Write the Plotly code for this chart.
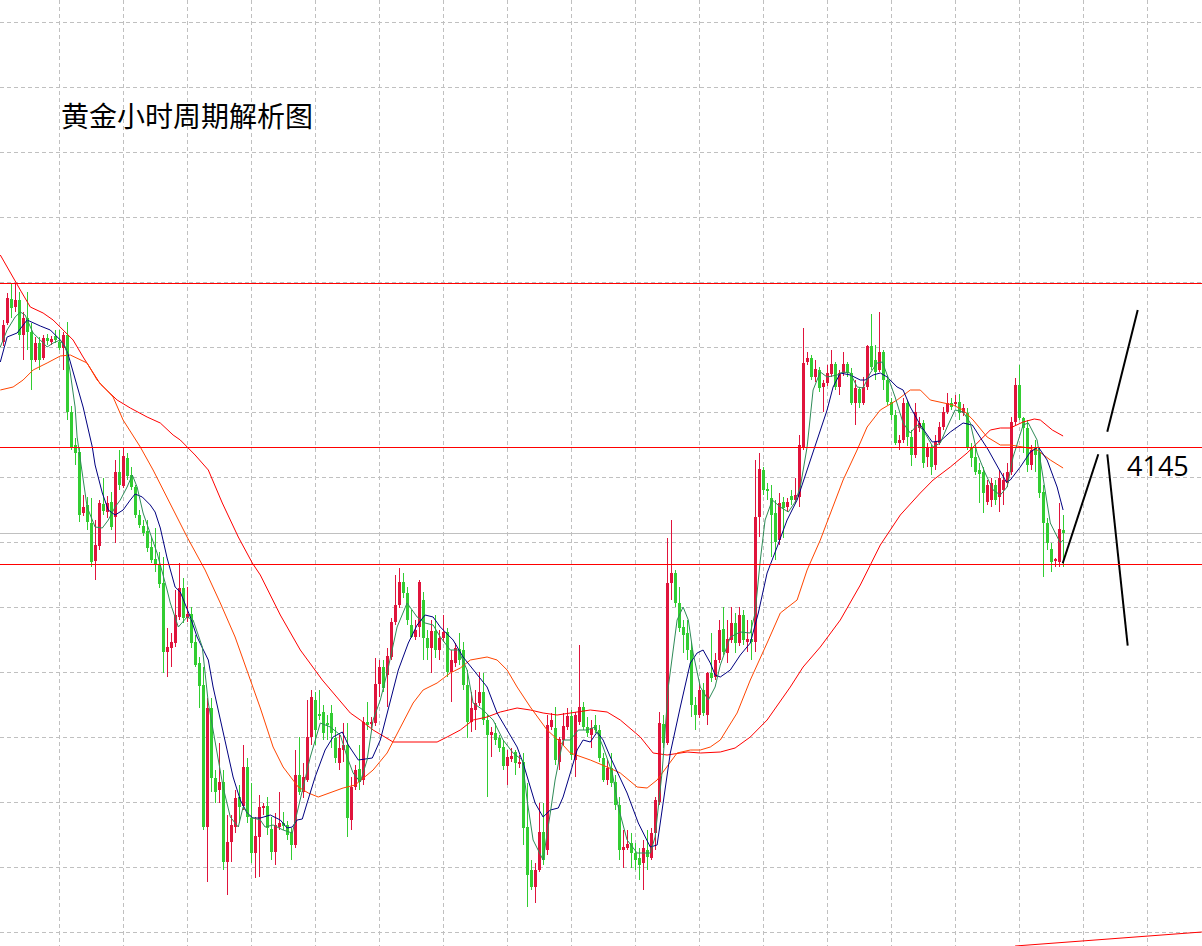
import plotly.graph_objects as go

# ---------------- data (hourly gold candles) ----------------
opens = [4197.5,4207,4219,4215,4218.5,4201,4209.5,4202.5,4188.5,4197,4189.5,4199.5,4197.5,4200.5,4197.5,4194.5,4201,4162.5,4146,4142.5,
4112,4116,4107,4088,4095.5,4116.5,4112.5,4117.5,4110,4132.5,4125.5,4139.5,4131,4125,4111,4105.5,4103,4095,4089,4086,
4077,4042.5,4044.5,4047,4060,4074.5,4059.5,4061.5,4047.5,4037,4026,3955,4014.5,3979.5,3973.5,3977.5,3937.5,3947.5,3955,3970,
3965.5,3985,3959.5,3942,3950,3964.5,3965.5,3954,3942.5,3955,3957,3956,3952,3946,3981,3972.5,3978.5,4000,4018.5,4011.5,
4012.5,4007,4012,3999.5,3987,3993.5,3996,3958.5,3975,3984,3978.5,4007.5,4006.5,4007,4026.5,4035,4031,4040,4057.5,4066,
4077.5,4072,4056,4050,4055,4068.5,4049.5,4044.5,4053,4043.5,4049.5,4052.5,4032.5,4037,4044,4043.5,4026,4007.5,4013.5,4017,
4022.5,4008.5,4001,4002,3999.5,3995,3985.5,3989,3992.5,3986.5,3987.5,3955,3933.5,3925,3933.5,3952.5,3943.5,4005,4004.5,3987.5,
3998.5,4005,4010.5,3988.5,4007.5,4015,4005,4001,4006,4003.5,3989.5,3978.5,3984.5,3977.5,3966,3943.5,3944.5,3947,3942,3939.5,
3937,3943.5,3939.5,3952,3967.5,4006.5,3997,4077,4082,4067,4055,4052,4043.5,4016,4011,4023.5,4011,4032,4030,4038.5,
4054,4042,4048.5,4057,4047,4061,4047.5,4049,4047.5,4110,4133.5,4123.5,4119.5,4112,4098.5,4117.5,4115,4120.5,4118.5,4120,
4145,4187.5,4189.5,4180,4183.5,4175,4177,4181.5,4186.5,4175,4182,4186.5,4182,4167,4174,4167,4175,4195.5,4188.5,4183.5,
4192.5,4178.5,4167.5,4161,4147,4148.5,4167,4150,4141,4154.5,4157,4140,4144.5,4136,4147,4155,4162.5,4167,4166.5,4167.5,
4162,4162,4145,4140,4133.5,4132.5,4117.5,4118.5,4126,4120,4123.5,4127,4132.5,4157.5,4176,4159.5,4154.5,4136,4145,4142.5,
4122.5,4107,4094,4088,4087.5,4103.5]
highs = [4208.5,4222,4227,4227,4222.5,4212.5,4222.5,4207,4200,4200,4201,4201.5,4200.5,4203.5,4203.5,4202.5,4207.5,4165.5,4149.5,4145,
4121,4120,4119.5,4108.5,4118.5,4129.5,4120.5,4122.5,4138.5,4143.5,4144.5,4142,4135,4126,4113.5,4108.5,4108.5,4100,4104.5,4092.5,
4090,4054.5,4052,4073.5,4087,4079.5,4075,4065,4051,4040,4035,4019.5,4019.5,3983.5,3997,3983.5,3961,3961,3973.5,3976,
3996,3989.5,3977,3960,3971,3967,3970,3960,3962,3972.5,3962.5,3958,3954.5,3993.5,4000,3987,4018.5,4023.5,4022.5,4023.5,
4016,4011,4016,4005,4001,4007,4007,3980,3986,3996,4010,4017.5,4010,4039.5,4038.5,4038.5,4044.5,4059.5,4081,4084.5,
4082,4075,4063.5,4058.5,4078.5,4072.5,4053.5,4058.5,4061,4053.5,4061,4054.5,4043.5,4047,4052,4047.5,4033.5,4022.5,4023.5,4032.5,
4032,4011,4005,4007,4001,3998.5,3993.5,3994.5,3993.5,3991,3992,3977,3938.5,3937,3967,3967,4011,4012,4015,4000,
4012,4014.5,4013.5,4012.5,4046,4017.5,4010,4008.5,4011,4006,3992,3988.5,3992,3981,3970,3953.5,3953.5,3952,3947,3944.5,
3948.5,3953.5,3954.5,3970,4012.5,4011,4099.5,4108.5,4083.5,4075,4058.5,4058.5,4047.5,4020,4027,4027,4032.5,4052,4042,4058.5,
4065,4058.5,4065,4062,4065,4063.5,4058.5,4058.5,4138.5,4142,4135,4127,4126,4118.5,4122,4120,4119.5,4123.5,4129.5,4151,
4204.5,4192.5,4191,4188.5,4185,4178.5,4186,4193.5,4187.5,4183.5,4192.5,4187.5,4184.5,4178.5,4175,4180,4196,4211.5,4196,4212.5,
4193.5,4181,4169.5,4163.5,4151,4169.5,4168.5,4153.5,4167,4160,4158.5,4147,4146,4151,4157.5,4165,4172,4169.5,4171,4171.5,
4166.5,4164.5,4147,4144.5,4137,4135,4128.5,4129.5,4128.5,4133.5,4132,4137,4160,4179.5,4186,4160,4158.5,4146,4148.5,4144.5,
4126,4109.5,4097,4089.5,4117,4111]
lows = [4195.5,4206,4209.5,4212.5,4198.5,4188.5,4193.5,4173.5,4187.5,4183.5,4188.5,4196,4196,4197,4193.5,4183.5,4158.5,4143.5,4136,4107.5,
4110.5,4103.5,4085,4078.5,4093.5,4111,4109.5,4103.5,4097,4123.5,4124.5,4128.5,4123.5,4109.5,4104.5,4100.5,4092.5,4087,4082.5,4074.5,
4032,4030,4035,4045,4058.5,4057,4057.5,4044.5,4035,4014.5,3953.5,3927.5,3972.5,3967,3967,3933.5,3921,3937.5,3952,3957,
3963.5,3957,3937,3929.5,3930,3961,3951,3938.5,3936,3953.5,3953.5,3948.5,3938.5,3944.5,3971,3969.5,3977.5,3996,3996,4008.5,
3998.5,3998.5,3994.5,3987,3983.5,3987.5,3950,3953.5,3973.5,3973.5,3976,4003.5,4003.5,4005.5,4020,4022.5,4015,4038.5,4056,4064.5,
4069.5,4056,4049.5,4048.5,4050,4038.5,4038.5,4032,4039.5,4038.5,4047.5,4030,4017.5,4035,4036,4023.5,3999.5,4002.5,4003.5,4015.5,
4006,3970,3990,3996,3992.5,3983.5,3976,3987.5,3981,3984.5,3946,3915,3923.5,3917,3932.5,3936,3941,4003.5,3986,3983.5,
3996,4003.5,3988.5,3980,4006,4003.5,4000,3994.5,4002,3987.5,3977.5,3976,3975,3963.5,3938.5,3934.5,3943.5,3934.5,3933.5,3928.5,
3923.5,3933.5,3938.5,3943.5,3966,3994.5,3996,4068.5,4065,4052.5,4042,4038.5,4010,4003.5,4009.5,4010.5,4006,4027.5,4028.5,4037,
4041,4037,4047,4042,4045.5,4046,4042.5,4038.5,4042.5,4100,4121,4118.5,4090,4088.5,4096,4099.5,4112.5,4116,4117,4115,
4143.5,4186,4178.5,4177.5,4172.5,4162.5,4175.5,4180,4173.5,4171,4180.5,4180,4166,4156,4164.5,4166,4173.5,4183.5,4178.5,4182.5,
4173.5,4166,4158.5,4146,4143.5,4147,4145.5,4135.5,4139.5,4152.5,4134.5,4135,4131,4133.5,4146,4153.5,4161.5,4163.5,4165.5,4158.5,
4160.5,4143.5,4135,4131,4117,4112,4116,4115,4116,4112.5,4116,4125,4131,4156,4158.5,4142,4132.5,4133.5,4132.5,4119.5,
4080,4093.5,4082.5,4085,4085,4085]
closes = [4206,4219.5,4214.5,4218.5,4201,4209.5,4202.5,4188.5,4197,4188.5,4199.5,4198,4199,4198.5,4194.5,4201,4162.5,4145,4142,4111,
4115,4107.5,4087.5,4096,4117,4113,4117,4105,4132.5,4126,4140.5,4130.5,4125,4111,4106,4102,4094.5,4088.5,4086,4076.5,
4042.5,4045,4047.5,4061,4074.5,4059.5,4061.5,4047,4036,4025.5,3955,4014.5,3979.5,3972.5,3977.5,3937.5,3947.5,3956,3969.5,3965,
3985,3960,3942,3950.5,3965,3965.5,3954.5,3942.5,3956,3957,3955.5,3951,3946,3981,3972.5,3980,4000,4020,4003.5,4010.5,
4002,4006,4002,3989.5,3994.5,3996,3959.5,3975,3983.5,3977.5,4007.5,4006,4007,4026.5,4035,4024.5,4040.5,4057.5,4066,4077.5,
4072,4058.5,4050,4053.5,4077.5,4049.5,4044.5,4053,4043.5,4049.5,4052.5,4032.5,4038.5,4044.5,4038.5,4026,4007.5,4014.5,4017,4022.5,
4008.5,4001,4002.5,3998.5,3994.5,3985.5,3990,3990.5,3987,3987.5,3954.5,3931,3925,3933.5,3952.5,3938.5,4006,4008.5,3988.5,3999,
4005.5,4010.5,3991,4011,4015,4005,4002,4004.5,4003.5,3989.5,3978.5,3984.5,3977,3966,3943.5,3945,3946.5,3942,3938.5,3936,
3944.5,3940,3952,3968.5,4007,3997,4077,4082,4067,4054.5,4051,4043.5,4016,4011,4023.5,4012,4032,4029.5,4038.5,4053.5,
4042.5,4049,4057,4047,4061,4048.5,4049,4047.5,4110,4134,4123.5,4123,4111,4097.5,4117,4114.5,4117.5,4118.5,4121,4146,
4187,4189.5,4180,4184,4174.5,4177,4182,4186.5,4175,4182,4186.5,4182,4167,4174.5,4167,4175,4195.5,4185,4182.5,4192.5,
4178.5,4167.5,4161,4147,4148.5,4167,4150,4141,4162.5,4157,4137,4144.5,4135,4147.5,4155,4162.5,4167,4165,4167.5,4162,
4164.5,4145,4139.5,4132.5,4131.5,4122,4126,4127,4118.5,4129.5,4128.5,4132.5,4157.5,4176,4159.5,4154.5,4136,4143.5,4141,4122,
4107,4097,4087.5,4088.5,4104,4102]

# moving averages: (candle index, price)
ma_fast_x = [-0.8,0.9,2.9,4.2,5.4,7.4,9.2,10.9,12.4,14.2,15.4,15.9,16.7,17.2,17.9,18.4,19.2,20.9,22.9,24.7,26.2,27.9,29.2,30.9,32.2,33.4,34.9,36.7,38.4,40.9,
41.7,43.7,45.9,47.4,49.7,51.2,53.4,54.9,56.7,58.7,59.9,61.7,64.2,65.4,67.4,69.9,72.2,73.4,74.9,76.7,79.2,81.7,84.2,85.9,87.4,89.2,90.9,92.4,94.2,95.9,
98.4,100.9,103.4,105.4,107.4,109.2,111.7,113.7,115.9,117.4,119.9,122.4,124.9,127.4,129.7,130.9,132.4,134.9,136.7,137.9,139.9,141.7,143.7,145.9,147.9,149.9,152.2,153.7,155.9,158.4,
159.9,161.7,162.9,164.7,166.2,168.4,169.9,171.2,172.4,174.2,176.2,177.9,179.2,181.7,184.2,186.7,187.9,189.2,190.4,192.2,194.2,196.2,197.9,199.2,200.9,202.4,204.2,205.9,208.4,209.9,
211.7,213.4,214.9,216.7,218.4,219.7,221.2,222.9,224.9,226.7,228.4,229.9,232.4,234.2,235.9,237.9,239.9,241.7,243.4,245.4,247.4,249.2,250.9,252.4,254.9,256.2,258.4,259.9,261.7,264.2,264.9]
ma_fast = [4195,4203.5,4210,4212.5,4211,4202,4198.5,4195,4197,4198.5,4195,4192,4182,4175,4165,4150,4138.5,4115,4105,4104.5,4108.5,4115,4118.5,4125,4131,4125,4112,4102,4092,4073.5,
4067,4055,4060,4058.5,4045,4017,3992,3975,3960,3955,3965,3960,3958.5,3955,3956,3953.5,3952,3962,3973.5,3990,4007,4005,4001,3990,3982,3977.5,3988.5,4008.5,4018.5,4032,
4055,4067,4060,4057,4056,4050,4043.5,4043.5,4033.5,4017,4013.5,4008.5,3998.5,3992,3988.5,3968.5,3948.5,3938.5,3962,3978.5,3998.5,3998.5,4003.5,4003.5,4005,3995,3982,3965,3948.5,3942,
3942,3942,3950,3983.5,4025,4058.5,4065,4058.5,4042,4025,4018.5,4025,4036,4050,4052.5,4052,4062,4088.5,4108.5,4118.5,4115,4112.5,4117.5,4125,4145,4173.5,4182.5,4180,4181,4182.5,
4182,4175,4174.5,4182,4187,4187.5,4179.5,4170,4157,4152,4156,4153.5,4145,4147,4155,4163.5,4162.5,4157,4142,4132,4123.5,4121,4125,4140,4156,4157,4148.5,4130,4107,4097,4098.5]

ma_mid_x = [-0.8,0.9,3.4,5.9,9.2,11.7,14.2,15.4,16.2,17.9,19.9,22.2,22.9,24.7,26.2,27.9,29.9,31.7,32.9,34.7,36.7,37.9,39.2,40.9,42.9,44.2,46.7,48.4,51.2,52.4,
54.2,55.9,57.4,59.2,60.9,62.4,64.2,66.7,69.2,70.9,72.2,73.4,74.7,75.9,77.9,80.4,82.4,84.7,86.2,88.7,92.2,94.2,96.2,98.7,101.2,103.4,105.4,107.4,109.2,112.4,
114.9,117.4,120.9,123.4,125.9,128.4,129.9,131.7,132.9,134.9,136.7,138.7,139.9,141.7,143.4,144.9,146.7,148.4,149.9,151.7,153.4,155.9,158.7,161.7,163.4,164.9,166.7,169.2,171.7,173.4,
174.9,176.7,177.9,179.2,181.7,184.2,186.7,188.7,190.9,193.4,195.9,198.4,200.9,203.4,205.9,207.4,209.2,211.7,214.2,215.4,217.4,219.2,220.9,223.4,224.9,226.7,229.2,232.2,234.2,236.7,
239.9,242.2,244.2,246.2,248.7,250.7,251.7,254.2,256.7,258.7,260.9,263.4,264.9]
ma_mid = [4187.5,4200,4202,4208.5,4205.5,4203.5,4198.5,4195,4191,4178.5,4165,4145,4136,4122,4113.5,4111,4113.5,4118.5,4121.5,4120,4116,4112.5,4104.5,4089.5,4075,4072.5,4060,4050,4038.5,4025,
4008.5,3992,3980,3968.5,3962,3959.5,3959.5,3961,3958.5,3954.5,3955,3958.5,3959,3967,3980,3993.5,4000,4002.5,3996,3988.5,3989.5,3998.5,4013.5,4033.5,4047,4056,4061,4060,4055,4048.5,
4040,4033.5,4025,4012,4003.5,3995,3987,3975,3967,3960,3963.5,3964.5,3970,3982,3993.5,3998.5,3997.5,4002.5,3998.5,3990,3982.5,3972,3957,3945,3946,3967,3992,4015,4037,4042,
4043.5,4037,4031,4030,4033.5,4041,4047,4062,4082,4095,4108.5,4118.5,4133.5,4148.5,4163.5,4175,4182,4181,4178.5,4178.5,4181,4182,4180,4175,4173.5,4165,4156,4147.5,4148,4152.5,
4157,4156,4150,4143.5,4134.5,4127.5,4128.5,4135,4142.5,4145,4138.5,4125,4113.5]

ma_slow_x = [-0.8,2.4,4.9,7.4,10.9,14.2,16.7,20.9,23.4,27.4,29.9,34.2,37.4,40.9,44.2,45.9,50.4,54.2,57.9,60.9,64.2,67.4,69.9,73.7,76.2,78.7,81.7,84.9,87.9,92.4,
95.9,99.2,102.4,104.9,108.4,111.7,114.2,116.7,120.9,123.4,125.9,128.4,131.7,135.9,139.2,141.7,146.7,150.9,154.2,158.4,160.9,163.4,165.9,168.4,171.7,174.2,176.7,179.2,183.4,186.7,
190.9,194.2,198.4,200.9,204.2,209.9,213.4,215.9,219.2,223.4,226.7,229.2,231.7,234.9,237.4,239.9,242.4,245.9,249.2,251.7,254.9,258.4,261.7,264.9]
ma_slow = [4173.5,4175,4178.5,4183.5,4187,4190.5,4191,4187,4178.5,4170,4158.5,4145,4133.5,4120,4107,4100,4083.5,4067,4050,4033.5,4014.5,3995,3985,3975,3972,3970,3972,3974.5,3976,3983.5,
3992,4005,4017,4023.5,4027,4032,4034.5,4038.5,4040,4038.5,4033.5,4025,4015,4003.5,3997.5,3992,3988.5,3985,3982,3975,3974.5,3978.5,3985,3992,3993.5,3993.5,3995,3998.5,4012,4028.5,
4047,4062,4068.5,4083.5,4098.5,4128.5,4143.5,4155,4163.5,4168.5,4173.5,4173.5,4168.5,4167,4166,4163.5,4158.5,4150,4146,4146,4145,4143.5,4138.5,4134.5]

ma_long_x = [-0.8,1.7,4.2,6.7,9.9,12.4,14.9,17.4,19.9,22.4,24.2,28.4,31.7,35.9,39.2,42.4,44.2,47.9,51.2,54.7,58.7,62.2,64.2,69.2,74.2,79.7,83.4,86.7,89.2,92.4,
97.4,100.9,105.9,108.4,110.9,114.2,117.4,120.9,124.2,128.4,131.7,134.9,138.4,141.7,146.7,150.9,154.2,159.2,162.4,165.9,170.9,174.2,179.2,182.9,186.7,190.9,196.7,199.9,204.2,209.2,
214.2,219.2,224.2,229.2,232.4,236.7,240.9,244.2,246.7,249.2,251.7,254.9,257.7,259.2,262.2,264.9]
ma_long = [4241,4232,4223.5,4215,4212,4208.5,4203.5,4198.5,4190,4182,4176.5,4168.5,4164.5,4160,4157,4151,4148.5,4141,4133.5,4117,4100,4087,4081,4061,4043.5,4028.5,4020,4012,4008.5,4003.5,
3997.5,3997.5,3997.5,3997.5,4000,4003.5,4008.5,4010,4012.5,4014.5,4013.5,4012,4011,4012,4013.5,4012.5,4008.5,4000,3992,3991,3992.5,3992,3992.5,3994.5,4000,4008.5,4025,4035,4045,4058.5,
4076,4096,4111,4122,4128.5,4135,4142,4148.5,4153.5,4154.5,4154.5,4157.5,4159,4158.5,4153.5,4150.5]

red_levels = [4226.75, 4144.75, 4086.25]
gray_levels = [4101.75]
target_level = "4145"

forecast_up1_x = [264.8, 273.7];   forecast_up1_y = [4086.85, 4141.35]
forecast_up2_x = [275.95, 283.55]; forecast_up2_y = [4152.65, 4213.5]
forecast_dn_x = [275.95, 281.05];  forecast_dn_y = [4141.35, 4045.65]
trend_low_x = [252.9, 299.6];      trend_low_y = [3895.5, 3902.5]

title_text = "黄金小时周期解析图"

# ---------------- figure ----------------
UP = "#E0143C"
DN = "#32CD32"
n = len(opens)
idx = list(range(n))
is_up = [c >= o for o, c in zip(opens, closes)]

fig = go.Figure()

# wicks
for flag, col in ((True, UP), (False, DN)):
    wx, wy = [], []
    for i in idx:
        if is_up[i] == flag:
            wx += [i, i, None]
            wy += [lows[i], highs[i], None]
    fig.add_trace(go.Scatter(x=wx, y=wy, mode="lines", line=dict(color=col, width=1),
                             hoverinfo="skip", showlegend=False))

# bodies
base = [min(o, c) for o, c in zip(opens, closes)]
height = [max(abs(c - o), 0.6) for o, c in zip(opens, closes)]
fig.add_trace(go.Bar(x=idx, y=height, base=base, width=0.75,
                     marker=dict(color=[UP if u else DN for u in is_up], line=dict(width=0)),
                     showlegend=False, hoverinfo="skip"))

# moving averages
for xs, ys, col in ((ma_long_x, ma_long, "#FF0000"), (ma_slow_x, ma_slow, "#FF4500"),
                    (ma_mid_x, ma_mid, "#000080"), (ma_fast_x, ma_fast, "#2E8B57")):
    fig.add_trace(go.Scatter(x=xs, y=ys, mode="lines", line=dict(color=col, width=1),
                             hoverinfo="skip", showlegend=False))

# forecast lines
for xs, ys in ((forecast_up1_x, forecast_up1_y), (forecast_up2_x, forecast_up2_y),
               (forecast_dn_x, forecast_dn_y)):
    fig.add_trace(go.Scatter(x=xs, y=ys, mode="lines", line=dict(color="#000000", width=2),
                             hoverinfo="skip", showlegend=False))
fig.add_trace(go.Scatter(x=trend_low_x, y=trend_low_y, mode="lines",
                         line=dict(color="#FF0000", width=1), hoverinfo="skip", showlegend=False))

shapes = []
for lv in gray_levels:
    shapes.append(dict(type="line", xref="paper", x0=0, x1=1, yref="y", y0=lv, y1=lv,
                       line=dict(color="#C0C0C0", width=1), layer="between"))
for lv in red_levels:
    shapes.append(dict(type="line", xref="paper", x0=0, x1=1, yref="y", y0=lv, y1=lv,
                       line=dict(color="#FF0000", width=1), layer="above"))

axis_common = dict(showgrid=True, gridcolor="#C0C0C0", gridwidth=1, griddash="4px,3px",
                   zeroline=False, showline=False, showticklabels=False, ticks="", fixedrange=True)

fig.update_layout(
    width=1202, height=946,
    margin=dict(l=0, r=0, t=0, b=0),
    paper_bgcolor="white", plot_bgcolor="white",
    xaxis=dict(range=[-0.875, 299.625], tick0=14, dtick=16, **axis_common),
    yaxis=dict(range=[3895.5, 4368.5], tick0=4357.25, dtick=32.5, **axis_common),
    shapes=shapes,
    showlegend=False,
    annotations=[
        dict(text=title_text, xref="paper", yref="paper", x=59 / 1202, y=1 - 115 / 946,
             xanchor="left", yanchor="middle", showarrow=False,
             font=dict(family="Noto Sans CJK SC", size=28, color="#000000")),
        dict(text=target_level, xref="paper", yref="paper", x=1125 / 1202, y=1 - 465 / 946,
             xanchor="left", yanchor="middle", showarrow=False,
             font=dict(family="Open Sans", size=27, color="#000000")),
    ],
)

fig.write_html("out.html")
